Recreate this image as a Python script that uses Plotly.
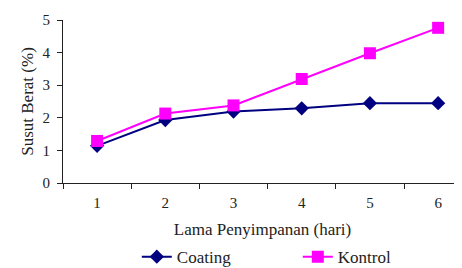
import plotly.graph_objects as go

days = ["1", "2", "3", "4", "5", "6"]
coating = [1.14, 1.93, 2.19, 2.29, 2.45, 2.45]
kontrol = [1.29, 2.13, 2.38, 3.19, 3.98, 4.76]
y_ticks = [0, 1, 2, 3, 4, 5]

font_family = "Liberation Serif, Times New Roman, serif"

fig = go.Figure()
fig.add_trace(go.Scatter(
    x=days, y=coating, name="Coating", mode="lines+markers",
    line=dict(color="#000080", width=2),
    marker=dict(symbol="diamond", size=11, color="#000080"),
))
fig.add_trace(go.Scatter(
    x=days, y=kontrol, name="Kontrol", mode="lines+markers",
    line=dict(color="#FF00FF", width=2),
    marker=dict(symbol="square", size=12, color="#FF00FF"),
))

# page body adds an 8px offset, so the figure is drawn 8px smaller
fig.update_layout(
    width=454, height=260,
    margin=dict(l=55, r=0, t=12, b=85, autoexpand=False),
    paper_bgcolor="white", plot_bgcolor="white",
    font=dict(family=font_family, size=15, color="#222222"),
    showlegend=True,
    legend=dict(orientation="h", x=0.185, xanchor="left", y=-0.455, yanchor="middle",
                entrywidth=116, font=dict(family=font_family, size=17),
                bgcolor="rgba(0,0,0,0)"),
)
fig.update_xaxes(
    type="category", range=[-0.5, 5.35], tickson="boundaries",
    ticks="outside", ticklen=5, tickcolor="#222222", ticklabelstandoff=6,
    showline=True, linecolor="#222222", linewidth=1, showgrid=False, automargin=False,
    title=dict(text="Lama Penyimpanan (hari)", standoff=13, font=dict(family=font_family, size=17)),
)
fig.update_yaxes(
    range=[0, 5], tickvals=y_ticks,
    ticks="outside", ticklen=5, tickcolor="#222222", ticklabelstandoff=4,
    showline=True, linecolor="#222222", linewidth=1, showgrid=False, zeroline=False,
    automargin=False,
    title=dict(text="Susut Berat (%)", standoff=4, font=dict(family=font_family, size=17)),
)

fig.write_html("out.html")
